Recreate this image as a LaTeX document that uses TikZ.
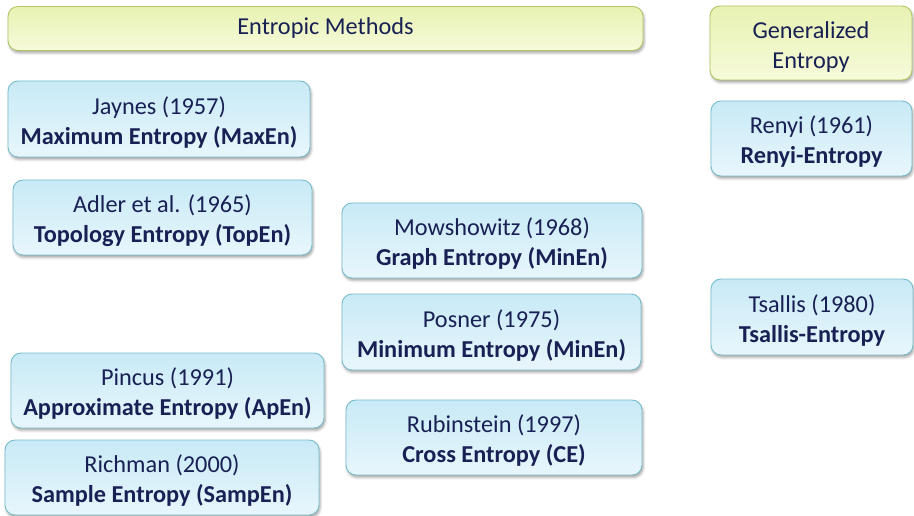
\documentclass[tikz,border=0pt]{standalone}
\usepackage{fontspec}
\setmainfont{Carlito}
\usetikzlibrary{shadows.blur}

\definecolor{inktext}{RGB}{24,32,84}
\definecolor{blueTop}{RGB}{200,234,246}
\definecolor{blueBot}{RGB}{232,246,252}
\definecolor{blueEdge}{RGB}{120,188,204}
\definecolor{lemonTop}{RGB}{232,242,178}
\definecolor{lemonBot}{RGB}{246,250,218}
\definecolor{lemonEdge}{RGB}{176,198,100}

% tall strut for the first line of a two-line box: sets the text a little lower
\newcommand{\lowstrut}{\rule{0pt}{24.5pt}}

\tikzset{
  boxbase/.style={rectangle, rounded corners=10pt, line width=0.9pt,
    align=center, inner sep=0pt, text=inktext,
    font=\fontsize{24.3}{30}\selectfont,
    blur shadow={shadow xshift=1.2pt, shadow yshift=-2.5pt,
      shadow blur radius=2.5pt, shadow opacity=35}},
  methodbox/.style={boxbase, draw=blueEdge, top color=blueTop, bottom color=blueBot},
  headbox/.style={boxbase, draw=lemonEdge, top color=lemonTop, bottom color=lemonBot},
  dims/.style 2 args={minimum width=#1pt, minimum height=#2pt}
}

\begin{document}
\begin{tikzpicture}[x=1pt, y=-1pt]
\useasboundingbox (0,0) rectangle (914,516);

% headers
\node[headbox, dims={635}{44}] (methods) at (325.5,28.5) {Entropic Methods};
\node[headbox, dims={202}{74}] (general) at (811,43) {\lowstrut Generalized\\Entropy};

% left column
\node[methodbox, dims={302}{76}] (jaynes) at (159,119)
  {\lowstrut Jaynes (1957)\\\textbf{Maximum Entropy (MaxEn)}};
\node[methodbox, dims={299}{75}] (adler) at (162.5,217.5)
  {\lowstrut Adler et al. (1965)\\\textbf{Topology Entropy (TopEn)}};
\node[methodbox, dims={313}{75}] (pincus) at (167.5,390.5)
  {\lowstrut Pincus (1991)\\\textbf{Approximate Entropy (ApEn)}};
\node[methodbox, dims={314}{75}] (richman) at (162,477.5)
  {\lowstrut Richman (2000)\\\textbf{Sample Entropy (SampEn)}};

% middle column
\node[methodbox, dims={300}{75}] (mowshowitz) at (492,240.5)
  {\lowstrut Mowshowitz (1968)\\\textbf{Graph Entropy (MinEn)}};
\node[methodbox, dims={299}{76}] (posner) at (491.5,332)
  {\lowstrut Posner (1975)\\\textbf{Minimum Entropy (MinEn)}};
\node[methodbox, dims={296}{75}] (rubinstein) at (494,437.5)
  {\lowstrut Rubinstein (1997)\\\textbf{Cross Entropy (CE)}};

% right column
\node[methodbox, dims={201}{75}] (renyi) at (811.5,138.5)
  {\lowstrut Renyi (1961)\\\textbf{Renyi-Entropy}};
\node[methodbox, dims={202}{76}] (tsallis) at (812,317)
  {\lowstrut Tsallis (1980)\\\textbf{Tsallis-Entropy}};
\end{tikzpicture}
\end{document}
